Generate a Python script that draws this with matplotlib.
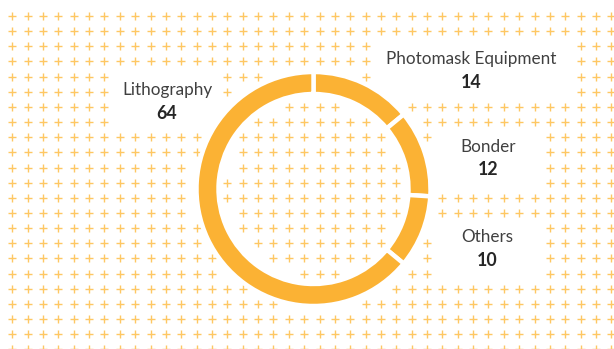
import matplotlib
matplotlib.use('Agg')
import matplotlib.pyplot as plt
import numpy as np

W, H = 614, 349

# Segment data (clockwise from 12 o'clock)
categories = ['Photomask Equipment', 'Bonder', 'Others', 'Lithography']
values = [14, 12, 10, 64]

ring_color = '#FBB234'
cross_color = '#FEBE48'

# donut geometry in pixels (origin top-left)
cx, cy = 313.5, 189
r_out, r_in = 117, 95

# label layout: text x, name baseline, value baseline, clear box (x0, y0, x1, y1)
label_layout = {
    'Photomask Equipment': (471, 64, 88, (373, 38, 573, 100)),
    'Bonder': (488, 152, 175, (437, 130, 542, 190)),
    'Others': (487, 242, 266, (437, 221, 542, 281)),
    'Lithography': (167, 95, 119, (112, 69, 219, 130)),
}

fig = plt.figure(figsize=(W / 100, H / 100), dpi=100)
ax = fig.add_axes([0, 0, 1, 1])

ax.pie(values, startangle=90, counterclock=False, center=(cx, H - cy),
       radius=r_out, colors=[ring_color] * len(values),
       wedgeprops=dict(width=r_out - r_in, edgecolor='white', linewidth=3.2))

ax.set_xlim(0, W)
ax.set_ylim(0, H)
ax.set_aspect('auto')
ax.axis('off')

for name, val in zip(categories, values):
    x, y_name, y_val, _ = label_layout[name]
    ax.text(x, H - y_name, name, ha='center', va='baseline', fontsize=12.3,
            family='Lato', color='#404040', zorder=5)
    ax.text(x, H - y_val, str(val), ha='center', va='baseline', fontsize=12.8,
            family='Lato', fontweight='bold', color='#262626', zorder=5)

# background grid of crosses, leaving the ring and the label boxes clear
xs = 12.3 + 15.36 * np.arange(40)
ys = 16 + 15.15 * np.arange(23)
px, py = [], []
for y in ys:
    for x in xs:
        d = np.hypot(x - cx, y - cy)
        if r_in - 7 < d < r_out + 4:
            continue
        if any(x0 < x < x1 and y0 < y < y1
               for *_, (x0, y0, x1, y1) in label_layout.values()):
            continue
        px.append(x)
        py.append(H - y)

ax.scatter(px, py, marker='+', s=26, linewidths=1.0, color=cross_color,
           alpha=0.85, zorder=0)

fig.savefig('out.png', dpi=100, facecolor='white')
